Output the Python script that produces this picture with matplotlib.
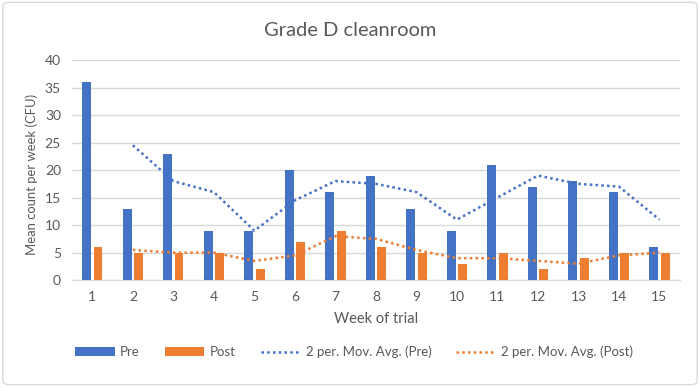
import matplotlib
matplotlib.use("Agg")
import matplotlib.pyplot as plt
import numpy as np
import pandas as pd
from matplotlib.patches import FancyBboxPatch

weeks = list(range(1, 16))
pre = [36, 13, 23, 9, 9, 20, 16, 19, 13, 9, 21, 17, 18, 16, 6]
post = [6, 5, 5, 5, 2, 7, 9, 6, 5, 3, 5, 2, 4, 5, 5]

pre_ma = pd.Series(pre).rolling(2).mean()
post_ma = pd.Series(post).rolling(2).mean()

plt.rcParams['font.family'] = ['Lato', 'DejaVu Sans']
blue = '#4472C4'
orange = '#ED7D31'
gray = '#595959'

fig = plt.figure(figsize=(7, 3.87), dpi=100)
fig.patches.append(FancyBboxPatch((0.004, 0.006), 0.992, 0.988, boxstyle="round,pad=0,rounding_size=0.01",
                                  transform=fig.transFigure, fill=False, edgecolor='#d9d9d9', linewidth=1))
ax = fig.add_axes([0.103, 0.276, 0.868, 0.569])

x = np.arange(len(weeks))
w = 0.22
b1 = ax.bar(x - 0.14, pre, width=w, color=blue, label='Pre', zorder=3)
b2 = ax.bar(x + 0.14, post, width=w, color=orange, label='Post', zorder=3)
l1, = ax.plot(x, pre_ma, color=blue, linestyle=(0, (1, 1.3)), linewidth=1.8, label='2 per. Mov. Avg. (Pre)', zorder=4)
l2, = ax.plot(x, post_ma, color=orange, linestyle=(0, (1, 1.3)), linewidth=1.8, label='2 per. Mov. Avg. (Post)', zorder=4)

ax.set_xlim(-0.5, len(weeks) - 0.5)
ax.set_ylim(0, 40)
ax.set_yticks(range(0, 41, 5))
ax.set_xticks(x)
ax.set_xticklabels([str(wk) for wk in weeks])
ax.grid(axis='y', color='#d9d9d9', linewidth=1, zorder=0)
for s in ['top', 'right', 'left']:
    ax.spines[s].set_visible(False)
ax.spines['bottom'].set_color('#d9d9d9')
ax.tick_params(axis='both', length=0, labelsize=10, colors=gray, pad=8)

fig.suptitle('Grade D cleanroom', fontsize=14.5, color=gray, x=0.5, y=0.922, va='center')
ax.set_xlabel('Week of trial', fontsize=10.5, color=gray, labelpad=6)
ax.set_ylabel('Mean count per week (CFU)', fontsize=9.4, color=gray, labelpad=6)
ax.yaxis.set_label_coords(-0.056, 0.48)

leg = fig.legend([b1, b2, l1, l2], ['Pre', 'Post', '2 per. Mov. Avg. (Pre)', '2 per. Mov. Avg. (Post)'],
                 loc='center', bbox_to_anchor=(0.506, 0.09), ncol=4, frameon=False,
                 fontsize=9.5, handlelength=3, columnspacing=1.9, handletextpad=0.4)
for t in leg.get_texts():
    t.set_color(gray)

fig.savefig('out.png', dpi=100)
